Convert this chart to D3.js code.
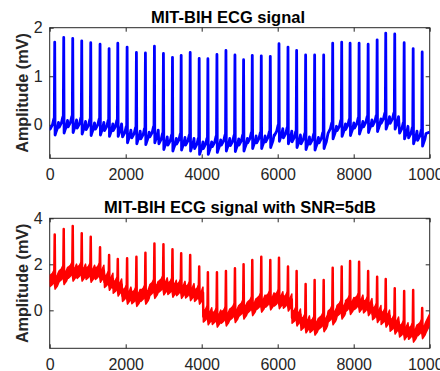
<!DOCTYPE html>
<html>
<head>
<meta charset="utf-8">
<script src="https://cdn.jsdelivr.net/npm/d3@7"></script>
<style>
  body { margin: 0; background: #fff; }
  svg { display: block; font-family: "Liberation Sans", Arial, sans-serif; }
</style>
</head>
<body>
<svg id="chart" width="440" height="371"></svg>
<script>
// R-peak sample positions (shared by both signals)
const beatSamples = [132, 369, 606, 843, 1080, 1325, 1563, 1792, 2037, 2282, 2519, 2756, 2993, 3231,
    3460, 3697, 3934, 4163, 4401, 4638, 4875, 5102, 5331, 5568, 5805, 6034, 6271, 6498, 6735, 6972,
    7210, 7447, 7684, 7905, 8142, 8380, 8617, 8843, 9080, 9328, 9565, 9802];

// clean ECG: R-peak height and baseline level at each beat (mV)
const cleanPeaks = [1.70, 1.80, 1.78, 1.73, 1.69, 1.66, 1.57, 1.68, 1.60, 1.49, 1.48, 1.62, 1.47, 1.39,
    1.43, 1.49, 1.37, 1.36, 1.45, 1.53, 1.44, 1.34, 1.43, 1.42, 1.41, 1.67, 1.60, 1.53, 1.44, 1.44,
    1.44, 1.68, 1.70, 1.68, 1.68, 1.66, 1.75, 1.89, 1.87, 1.69, 1.57, 1.50];
const cleanBase = [-0.02, 0.02, 0.03, 0.0, -0.03, -0.02, -0.05, -0.05, -0.18, -0.20, -0.22, -0.18, -0.32, -0.35,
    -0.33, -0.35, -0.42, -0.42, -0.38, -0.35, -0.36, -0.35, -0.30, -0.30, -0.28, -0.15, -0.20, -0.28, -0.32, -0.33,
    -0.30, -0.10, -0.05, -0.03, 0.0, 0.03, 0.05, 0.10, 0.10, -0.10, -0.20, -0.25];
const cleanEnds = [-0.05, -0.15];

// noisy ECG (SNR = 5 dB): R-peak height and centre of the noise band at each beat
const noisyPeaks = [3.30, 3.53, 3.67, 3.35, 3.20, 2.74, 2.40, 2.23, 2.26, 2.33, 2.50, 2.90, 2.87, 2.65,
    2.48, 2.40, 1.90, 1.65, 1.65, 1.71, 1.83, 2.00, 2.19, 2.33, 2.19, 2.29, 1.90, 1.71, 1.14, 1.32,
    1.32, 1.85, 1.90, 2.14, 2.11, 1.71, 1.46, 1.36, 0.96, 0.84, 0.88, 0.10];
const noisyBase = [1.35, 1.55, 1.70, 1.70, 1.65, 1.65, 1.30, 1.05, 0.70, 0.60, 0.70, 0.95, 1.10, 1.00,
    0.95, 0.85, 0.70, -0.20, -0.30, -0.25, -0.10, 0.05, 0.20, 0.35, 0.45, 0.50, 0.40, -0.25, -0.55, -0.65,
    -0.50, -0.20, 0.05, 0.25, 0.35, 0.20, -0.10, -0.30, -0.60, -0.85, -0.95, -0.80];
const noisyEnds = [1.30, -0.40];

const xTicks = [0, 2000, 4000, 6000, 8000, 10000];
const topYTicks = [0, 1, 2];
const botYTicks = [0, 2, 4];
const titles = ['MIT-BIH ECG signal', 'MIT-BIH ECG signal with SNR=5dB'];
const yLabel = 'Amplitude (mV)';

// beat shape around an R peak: [sample offset, level above baseline]
const beatShape = [[-120, -0.07], [-60, 0.02], [-25, 0.14], [-12, 0.07], [0, null], [10, -0.19],
    [30, -0.14], [70, -0.05], [100, 0.07]];

const svg = d3.select('#chart');
const axisColor = '#262626';
const left = 49.7, right = 429.7;

const x = d3.scaleLinear().domain([0, 10000]).range([left, right]);
const yTop = d3.scaleLinear().domain([-0.69, 2]).range([158.3, 27.7]);
const yBot = d3.scaleLinear().domain([-1.65, 4]).range([348.3, 218.3]);

function drawFrame(y, yTicks, title, titleX, titleY, idx) {
    const [y0, y1] = y.range();
    const g = svg.append('g');

    svg.append('clipPath').attr('id', 'clip' + idx)
        .append('rect').attr('x', left).attr('y', y1).attr('width', right - left).attr('height', y0 - y1);

    const bottom = g.append('g').attr('transform', `translate(0,${y0})`)
        .call(d3.axisBottom(x).tickValues(xTicks).tickSize(-4).tickSizeOuter(0).tickPadding(10).tickFormat(d3.format('d')));
    const top = g.append('g').attr('transform', `translate(0,${y1})`)
        .call(d3.axisTop(x).tickValues(xTicks).tickSize(-4).tickSizeOuter(0).tickFormat(''));
    const lft = g.append('g').attr('transform', `translate(${left},0)`)
        .call(d3.axisLeft(y).tickValues(yTicks).tickSize(-4).tickSizeOuter(0).tickPadding(7).tickFormat(d3.format('d')));
    const rgt = g.append('g').attr('transform', `translate(${right},0)`)
        .call(d3.axisRight(y).tickValues(yTicks).tickSize(-4).tickSizeOuter(0).tickFormat(''));

    [bottom, top, lft, rgt].forEach(a => {
        a.select('.domain').remove();
        a.selectAll('line').attr('stroke', axisColor);
        a.selectAll('text').attr('fill', axisColor).attr('font-size', 16)
            .attr('font-family', '"Liberation Sans", Arial, sans-serif');
    });

    g.append('rect').attr('x', left).attr('y', y1).attr('width', right - left).attr('height', y0 - y1)
        .attr('fill', 'none').attr('stroke', axisColor).attr('stroke-width', 1);

    svg.append('text').attr('x', titleX).attr('y', titleY).attr('text-anchor', 'middle')
        .attr('font-size', 16.5).attr('font-weight', 'bold').attr('fill', '#000').text(title);

    svg.append('text').attr('transform', `translate(28,${(y0 + y1) / 2}) rotate(-90)`)
        .attr('text-anchor', 'middle').attr('font-size', 16.2).attr('font-weight', 'bold')
        .attr('fill', axisColor).text(yLabel);
}

function ecgPoints(peaks, base, ends, withPeaks) {
    const pts = [[0, ends[0]]];
    beatSamples.forEach((t, i) => {
        beatShape.forEach(([dt, v]) => {
            const s = t + dt;
            if (s <= 0 || s >= 10000) return;
            if (v === null) {
                if (withPeaks) pts.push([s, peaks[i]]);
            } else {
                pts.push([s, base[i] + v]);
            }
        });
    });
    pts.push([10000, ends[1]]);
    return pts;
}

// top panel
drawFrame(yTop, topYTicks, titles[0], 228, 23, 0);
const lineTop = d3.line().x(d => x(d[0])).y(d => yTop(d[1]));
svg.append('path')
    .attr('clip-path', 'url(#clip0)')
    .attr('d', lineTop(ecgPoints(cleanPeaks, cleanBase, cleanEnds, true)))
    .attr('fill', 'none').attr('stroke', '#0000ff').attr('stroke-width', 2.8)
    .attr('stroke-linejoin', 'round');

// bottom panel: noise band following the beat rhythm, then the spikes on top
drawFrame(yBot, botYTicks, titles[1], 240, 213, 1);
const band = d3.area().x(d => x(d[0])).y0(d => yBot(d[1] - 0.24)).y1(d => yBot(d[1] + 0.24));
svg.append('path')
    .attr('clip-path', 'url(#clip1)')
    .attr('d', band(ecgPoints(noisyPeaks, noisyBase, noisyEnds, false)))
    .attr('fill', '#ff0000').attr('stroke', '#ff0000').attr('stroke-width', 1.5)
    .attr('stroke-linejoin', 'round');
const lineBot = d3.line().x(d => x(d[0])).y(d => yBot(d[1]));
svg.append('path')
    .attr('clip-path', 'url(#clip1)')
    .attr('d', lineBot(ecgPoints(noisyPeaks, noisyBase, noisyEnds, true)))
    .attr('fill', 'none').attr('stroke', '#ff0000').attr('stroke-width', 2.5)
    .attr('stroke-linejoin', 'round');
</script>
</body>
</html>
